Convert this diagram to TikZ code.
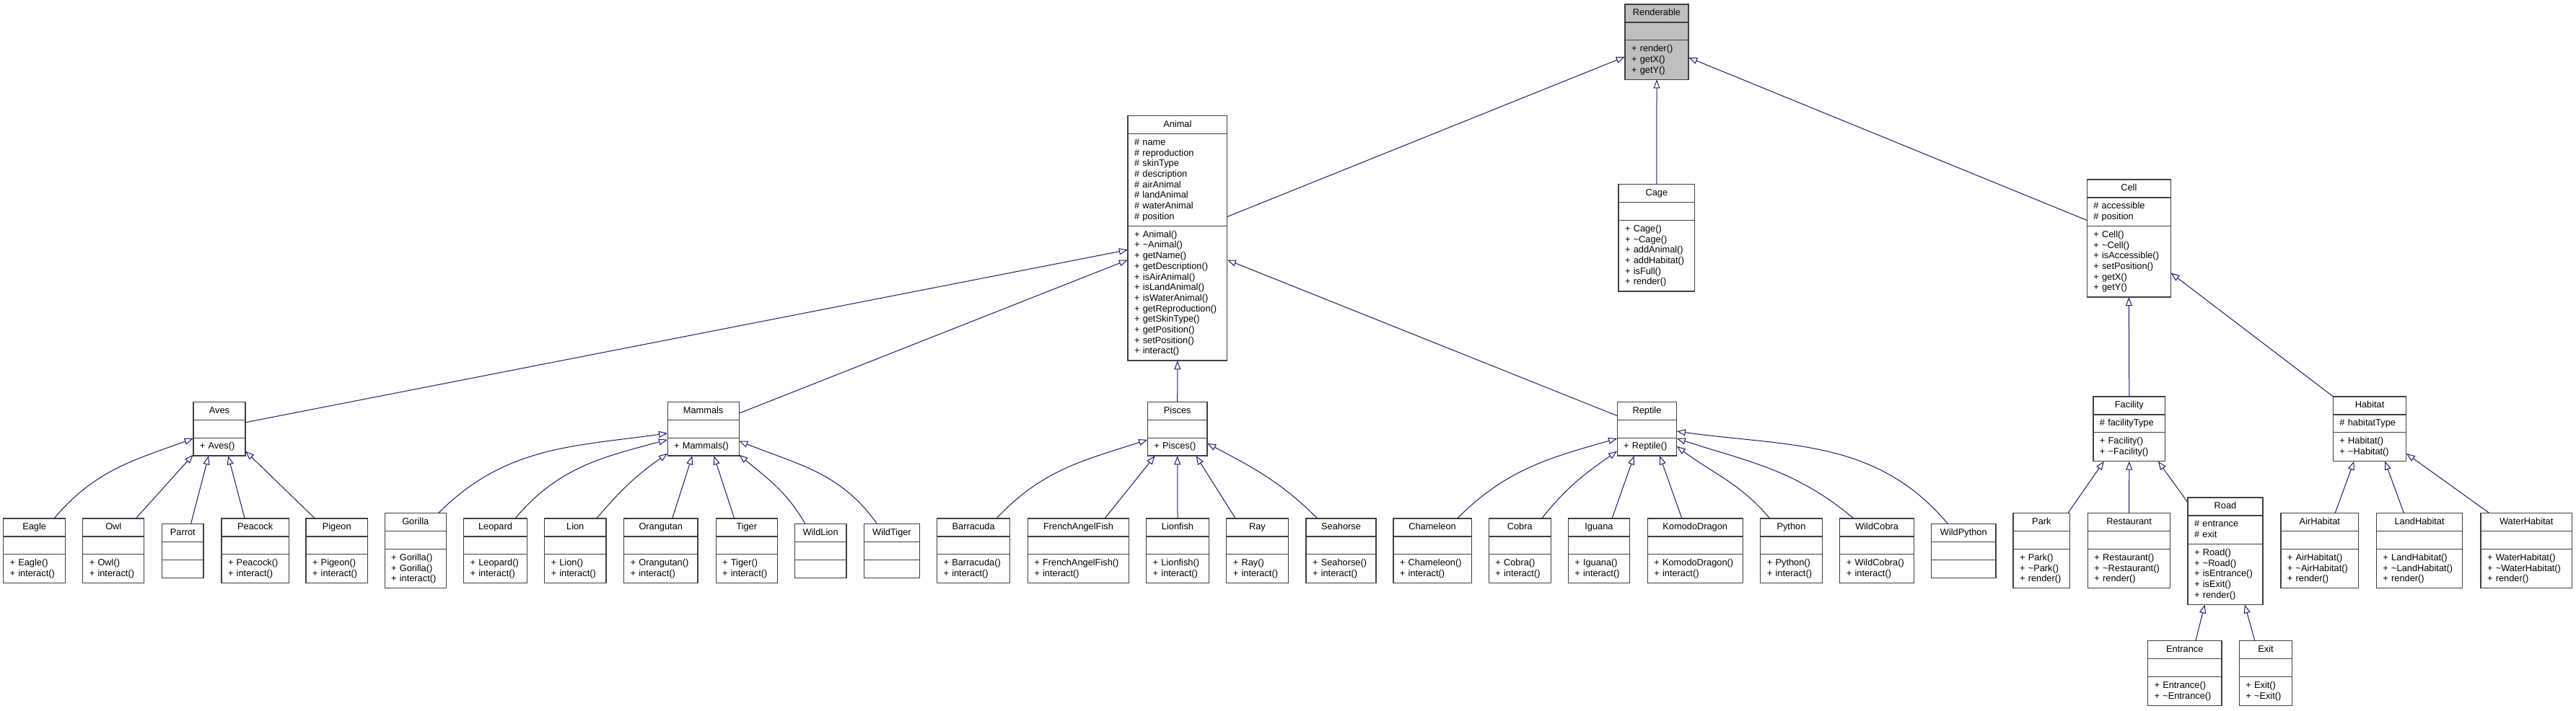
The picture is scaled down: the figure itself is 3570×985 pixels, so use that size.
\documentclass[tikz,border=0pt]{standalone}
\usepackage{fontspec}
\usepackage{xcolor}
\usepackage{tikz}
\usetikzlibrary{arrows.meta,fit}
\newfontfamily\dxfont{Liberation Sans}
\definecolor{dxedge}{RGB}{25, 25,112}
\definecolor{dxline}{RGB}{64, 64, 64}
\definecolor{dxbase}{RGB}{191,191,191}

% one class box: [extra style]{name}{left}{top}{width}{attributes}{methods}
\newcommand{\umlclass}[7][]{%
  \pgfmathsetmacro{\clsw}{#5-18}%
  \node[cpart, #1, text width=\clsw pt, align=center, anchor=north west]
        (#2-t) at (#3,-#4) {#2};
  \node[cpart, #1, text width=\clsw pt, anchor=north] (#2-a) at (#2-t.south) {#6};
  \node[cpart, #1, text width=\clsw pt, anchor=north] (#2-m) at (#2-a.south) {#7};
  \node[fit=(#2-t)(#2-m), inner sep=0pt] (#2) {};
}

\begin{document}
\begin{tikzpicture}[
      x=1pt, y=1pt,
      cpart/.style={draw=dxline, line width=1.2pt, fill=white, outer sep=0pt,
                    font=\dxfont\fontsize{12.8}{14.7}\selectfont,
                    inner xsep=9pt, inner ysep=6.5pt, align=left,
                    execute at begin node={\vphantom{()}},
                    execute at end node={\vphantom{()}}},
      inh/.style={draw=dxedge, line width=1pt,
                  -{Triangle[open, length=12pt, width=9pt]}},
    ]
      \useasboundingbox (0,0) rectangle (3570,-985);

      % Top
      \umlclass[fill=dxbase]{Renderable}{2252}{6}{88}{}
            {+ render()\\+ getX()\\+ getY()}
      \umlclass{Animal}{1563}{160.7}{137.7}
            {\# name\\\# reproduction\\\# skinType\\\# description\\
             \# airAnimal\\\# landAnimal\\\# waterAnimal\\\# position}
            {+ Animal()\\+ \textasciitilde Animal()\\+ getName()\\
             + getDescription()\\+ isAirAnimal()\\+ isLandAnimal()\\
             + isWaterAnimal()\\+ getReproduction()\\+ getSkinType()\\
             + getPosition()\\+ setPosition()\\+ interact()}
      \umlclass{Cage}{2243}{255.7}{105.7}{}
            {+ Cage()\\+ \textasciitilde Cage()\\+ addAnimal()\\
             + addHabitat()\\+ isFull()\\+ render()}
      \umlclass{Cell}{2892.3}{249}{116}{\# accessible\\\# position}
            {+ Cell()\\+ \textasciitilde Cell()\\+ isAccessible()\\
             + setPosition()\\+ getX()\\+ getY()}

      % Middle
      \umlclass{Aves}{267.9}{557.3}{72.1}{}{+ Aves()}
      \umlclass{Mammals}{925.2}{557.3}{98.9}{}{+ Mammals()}
      \umlclass{Pisces}{1590.4}{557.3}{82.6}{}{+ Pisces()}
      \umlclass{Reptile}{2241.2}{557.3}{82.5}{}{+ Reptile()}
      \umlclass{Facility}{2900.9}{550}{99.8}{\# facilityType}
            {+ Facility()\\+ \textasciitilde Facility()}
      \umlclass{Habitat}{3233.4}{550}{101.3}{\# habitatType}
            {+ Habitat()\\+ \textasciitilde Habitat()}

      % Birds
      \umlclass{Eagle}{4.6}{719}{86.1}{}{+ Eagle()\\+ interact()}
      \umlclass{Owl}{114.8}{719}{85}{}{+ Owl()\\+ interact()}
      \umlclass{Parrot}{224.6}{726.7}{57.4}{}{}
      \umlclass{Peacock}{307}{719}{93.3}{}{+ Peacock()\\+ interact()}
      \umlclass{Pigeon}{424}{719}{85.4}{}{+ Pigeon()\\+ interact()}

      % Mammals
      \umlclass{Gorilla}{533.1}{711.7}{85.3}{}
            {+ Gorilla()\\+ Gorilla()\\+ interact()}
      \umlclass{Leopard}{642.6}{719}{87.8}{}{+ Leopard()\\+ interact()}
      \umlclass{Lion}{754.6}{719}{85.3}{}{+ Lion()\\+ interact()}
      \umlclass{Orangutan}{864.6}{719}{102.3}{}{+ Orangutan()\\+ interact()}
      \umlclass{Tiger}{992.1}{719}{85.3}{}{+ Tiger()\\+ interact()}
      \umlclass{WildLion}{1101.2}{726.7}{71.8}{}{}
      \umlclass{WildTiger}{1197.2}{726.7}{77.5}{}{}

      % Fish
      \umlclass{Barracuda}{1298.5}{719}{101.3}{}{+ Barracuda()\\+ interact()}
      \umlclass{FrenchAngelFish}{1424.4}{719}{140.2}{}
            {+ FrenchAngelFish()\\+ interact()}
      \umlclass{Lionfish}{1588.7}{719}{86.6}{}{+ Lionfish()\\+ interact()}
      \umlclass{Ray}{1699.8}{719}{85.3}{}{+ Ray()\\+ interact()}
      \umlclass{Seahorse}{1810}{719}{97}{}{+ Seahorse()\\+ interact()}

      % Reptiles
      \umlclass{Chameleon}{1930.9}{719}{108.3}{}{+ Chameleon()\\+ interact()}
      \umlclass{Cobra}{2063.3}{719}{85.9}{}{+ Cobra()\\+ interact()}
      \umlclass{Iguana}{2173.3}{719}{85.3}{}{+ Iguana()\\+ interact()}
      \umlclass{KomodoDragon}{2283.3}{719}{131.9}{}
            {+ KomodoDragon()\\+ interact()}
      \umlclass{Python}{2439.8}{719}{85.3}{}{+ Python()\\+ interact()}
      \umlclass{WildCobra}{2549.8}{719}{102.7}{}{+ WildCobra()\\+ interact()}
      \umlclass{WildPython}{2676.7}{726.7}{89.2}{}{}

      % Facilities and habitats
      \umlclass{Park}{2790}{711.7}{78.7}{}
            {+ Park()\\+ \textasciitilde Park()\\+ render()}
      \umlclass{Restaurant}{2893.4}{711.7}{114.3}{}
            {+ Restaurant()\\+ \textasciitilde Restaurant()\\+ render()}
      \umlclass{Road}{3032}{690}{104}{\# entrance\\\# exit}
            {+ Road()\\+ \textasciitilde Road()\\+ isEntrance()\\
             + isExit()\\+ render()}
      \umlclass{AirHabitat}{3160.9}{711.7}{107.8}{}
            {+ AirHabitat()\\+ \textasciitilde AirHabitat()\\+ render()}
      \umlclass{LandHabitat}{3293.4}{711.7}{119.3}{}
            {+ LandHabitat()\\+ \textasciitilde LandHabitat()\\+ render()}
      \umlclass{WaterHabitat}{3438}{711.7}{126.4}{}
            {+ WaterHabitat()\\+ \textasciitilde WaterHabitat()\\+ render()}
      \umlclass{Entrance}{2976.5}{888.7}{102.5}{}
            {+ Entrance()\\+ \textasciitilde Entrance()}
      \umlclass{Exit}{3103.3}{888.7}{73.4}{}
            {+ Exit()\\+ \textasciitilde Exit()}

      % Inheritance: top
      \draw[inh] ([yshift=-140pt]Animal.north east) -- ([yshift=-73pt]Renderable.north west);
      \draw[inh] (Cage.north) -- (Renderable.south);
      \draw[inh] ([yshift=-56.7pt]Cell.north west) -- ([yshift=-74pt]Renderable.north east);
      \draw[inh] ([yshift=-28.7pt]Aves.north east) -- ([yshift=-186pt]Animal.north west);
      \draw[inh] ([yshift=-16pt]Mammals.north east) -- ([yshift=-200pt]Animal.north west);
      \draw[inh] (Pisces.north) -- (Animal.south);
      \draw[inh] ([yshift=-19.4pt]Reptile.north west) -- ([yshift=-200pt]Animal.north east);
      \draw[inh] (Facility.north) -- (Cell.south);
      \draw[inh] (Habitat.north west) -- ([yshift=33.7pt]Cell.south east);

      % Inheritance: birds
      \draw[inh] ([xshift=-15.7pt]Eagle.north east) to[out=50,in=200] ([yshift=-51pt]Aves.north west);
      \draw[inh] ([xshift=-11.6pt]Owl.north east) -- ([yshift=1.6pt]Aves.south west);
      \draw[inh] ([xshift=-17.7pt]Parrot.north east) -- ([xshift=21.4pt]Aves.south west);
      \draw[inh] ([xshift=32.3pt]Peacock.north west) -- ([xshift=-24pt]Aves.south east);
      \draw[inh] ([xshift=12.4pt]Pigeon.north west) -- ([yshift=6.6pt]Aves.south east);

      % Inheritance: mammals
      \draw[inh] ([xshift=-11pt]Gorilla.north east) to[out=45,in=188] ([yshift=-43.7pt]Mammals.north west);
      \draw[inh] ([xshift=-16.5pt]Leopard.north east) to[out=50,in=195] ([yshift=-52.7pt]Mammals.north west);
      \draw[inh] ([xshift=-13.1pt]Lion.north east) to[out=50,in=215] ([yshift=3.3pt]Mammals.south west);
      \draw[inh] ([xshift=-35.4pt]Orangutan.north east) -- ([xshift=34.4pt]Mammals.south west);
      \draw[inh] ([xshift=25.7pt]Tiger.north west) -- ([xshift=-34.9pt]Mammals.south east);
      \draw[inh] ([xshift=15pt]WildLion.north west) to[out=120,in=-40] ([yshift=1.6pt]Mammals.south east);
      \draw[inh] ([xshift=18.4pt]WildTiger.north west) to[out=125,in=-22] ([yshift=-54.4pt]Mammals.north east);

      % Inheritance: fish
      \draw[inh] ([xshift=-18.8pt]Barracuda.north east) to[out=47,in=198] ([yshift=-52.7pt]Pisces.north west);
      \draw[inh] ([xshift=-33.6pt]FrenchAngelFish.north east) -- ([xshift=10.3pt]Pisces.south west);
      \draw[inh] (Lionfish.north) -- (Pisces.south);
      \draw[inh] ([xshift=12.5pt]Ray.north west) -- ([xshift=-15.6pt]Pisces.south east);
      \draw[inh] ([xshift=15.7pt]Seahorse.north west) to[out=135,in=-28] ([yshift=-57.7pt]Pisces.north east);

      % Inheritance: reptiles
      \draw[inh] ([xshift=-19.7pt]Chameleon.north east) to[out=45,in=196] ([yshift=-51pt]Reptile.north west);
      \draw[inh] ([xshift=-12.4pt]Cobra.north east) to[out=52,in=215] ([yshift=6.6pt]Reptile.south west);
      \draw[inh] ([xshift=-24.7pt]Iguana.north east) -- ([xshift=23.6pt]Reptile.south west);
      \draw[inh] ([xshift=47.7pt]KomodoDragon.north west) -- ([xshift=-23.7pt]Reptile.south east);
      \draw[inh] ([xshift=12.9pt]Python.north west) to[out=130,in=-37] ([yshift=13.3pt]Reptile.south east);
      \draw[inh] ([xshift=19.1pt]WildCobra.north west) to[out=140,in=-18] ([yshift=-51pt]Reptile.north east);
      \draw[inh] ([xshift=23pt]WildPython.north west) to[out=130,in=-8] ([yshift=-41pt]Reptile.north east);

      % Inheritance: cells
      \draw[inh] ([xshift=-3.1pt]Park.north east) -- ([xshift=15.1pt]Facility.south west);
      \draw[inh] (Restaurant.north) -- (Facility.south);
      \draw[inh] ([yshift=-6.7pt]Road.north west) -- ([xshift=-10.1pt]Facility.south east);
      \draw[inh] ([xshift=-32.8pt]AirHabitat.north east) -- ([xshift=29.2pt]Habitat.south west);
      \draw[inh] ([xshift=38.2pt]LandHabitat.north west) -- ([xshift=-29.7pt]Habitat.south east);
      \draw[inh] ([xshift=12pt]WaterHabitat.north west) -- ([yshift=10.7pt]Habitat.south east);
      \draw[inh] ([xshift=-36.3pt]Entrance.north east) -- ([xshift=23.7pt]Road.south west);
      \draw[inh] ([xshift=21.7pt]Exit.north west) -- ([xshift=-25.3pt]Road.south east);
    \end{tikzpicture}
\end{document}
